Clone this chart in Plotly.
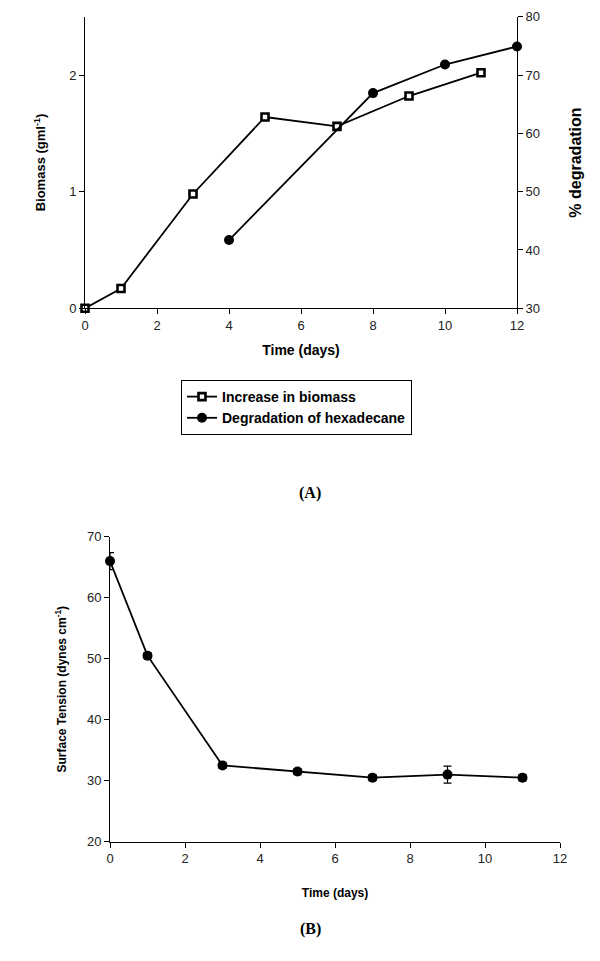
import plotly.graph_objects as go

# Panel A data
biomass_days = [0, 1, 3, 5, 7, 9, 11]
biomass_vals = [0.0, 0.17, 0.98, 1.64, 1.56, 1.82, 2.02]
degr_days = [4, 8, 10, 12]
degr_vals = [41.7, 66.9, 71.8, 74.9]

# Panel B data
st_days = [0, 1, 3, 5, 7, 9, 11]
st_vals = [66.0, 50.5, 32.5, 31.5, 30.5, 31.0, 30.5]
st_err = [1.4, 0.5, 0.5, 0.5, 0.5, 1.4, 0.5]

# page has an 8px body margin; size the figure so it fits the 600x961 window
OFF = 8
W, H = 600 - OFF, 961 - OFF
def px(x): return (x - OFF) / W
def py(y): return 1 - (y - OFF) / H

fig = go.Figure()

fig.add_trace(go.Scatter(
    x=biomass_days, y=biomass_vals, name="Increase in biomass",
    mode="lines+markers", xaxis="x", yaxis="y",
    line=dict(color="black", width=1.8),
    marker=dict(symbol="square", size=7, color="white", line=dict(color="black", width=2.6)),
    cliponaxis=False))
fig.add_trace(go.Scatter(
    x=degr_days, y=degr_vals, name="Degradation of hexadecane",
    mode="lines+markers", xaxis="x", yaxis="y2",
    line=dict(color="black", width=1.8),
    marker=dict(symbol="circle", size=10, color="black"),
    cliponaxis=False))
fig.add_trace(go.Scatter(
    x=st_days, y=st_vals, name="Surface tension", showlegend=False,
    mode="lines+markers", xaxis="x2", yaxis="y3",
    line=dict(color="black", width=1.8),
    marker=dict(symbol="circle", size=10, color="black"),
    error_y=dict(type="data", array=st_err, color="black", thickness=1.2, width=4),
    cliponaxis=False))

FONT = "Arial, Liberation Sans"
tickfont = dict(family=FONT, size=13, color="#222")
axcommon = dict(showgrid=False, zeroline=False, showline=True, linecolor="black",
                linewidth=1, ticks="outside", ticklen=5, tickcolor="black",
                tickfont=tickfont, automargin=False)

fig.update_layout(
    width=W, height=H, margin=dict(l=0, r=0, t=0, b=0),
    plot_bgcolor="white", paper_bgcolor="white",
    xaxis=dict(domain=[px(85), px(517)], range=[0, 12], dtick=2, anchor="y",
               title=dict(text="<b>Time (days)</b>", font=dict(family=FONT, size=14, color="black"), standoff=13),
               **axcommon),
    yaxis=dict(domain=[py(308.3), py(16.7)], range=[0, 2.5], dtick=1, anchor="x",
               title=dict(text="<b>Biomass (gml<sup>-1</sup>)</b>", font=dict(family=FONT, size=13, color="black"), standoff=20),
               **axcommon),
    yaxis2=dict(range=[30, 80], dtick=10, overlaying="y", side="right", anchor="x",
                title=dict(text="<b>% degradation</b>", font=dict(family=FONT, size=16, color="black"), standoff=30),
                **axcommon),
    xaxis2=dict(domain=[px(110), px(560)], range=[0, 12], dtick=2, anchor="y3",
                title=dict(text="<b>Time (days)</b>", font=dict(family=FONT, size=12, color="black"), standoff=23),
                **axcommon),
    yaxis3=dict(domain=[py(841.7), py(536.7)], range=[20, 70], dtick=10, anchor="x2",
                title=dict(text="<b>Surface Tension (dynes cm<sup>-1</sup>)</b>", font=dict(family=FONT, size=12, color="black"), standoff=17),
                **axcommon),
    legend=dict(x=px(181), y=py(380), xanchor="left", yanchor="top",
                bordercolor="black", borderwidth=1, bgcolor="white",
                font=dict(family=FONT, size=14, color="black", weight="bold"),
                tracegroupgap=0, itemwidth=30),
    annotations=[
        dict(text="<b>(A)</b>", x=px(310), y=py(493), xref="paper", yref="paper",
             showarrow=False, font=dict(family="Liberation Serif, Times New Roman", size=16, color="black")),
        dict(text="<b>(B)</b>", x=px(310), y=py(940), xref="paper", yref="paper",
             showarrow=False, font=dict(family="Liberation Serif, Times New Roman", size=16, color="black")),
    ],
)

fig.write_html("out.html")
